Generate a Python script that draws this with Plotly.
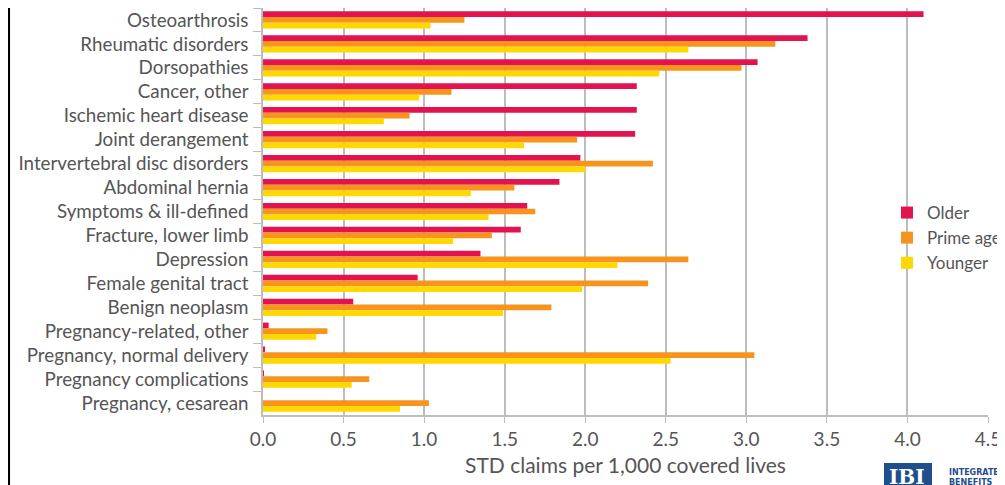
import plotly.graph_objects as go

categories = ["Osteoarthrosis", "Rheumatic disorders", "Dorsopathies", "Cancer, other",
              "Ischemic heart disease", "Joint derangement", "Intervertebral disc disorders",
              "Abdominal hernia", "Symptoms & ill-defined", "Fracture, lower limb", "Depression",
              "Female genital tract", "Benign neoplasm", "Pregnancy-related, other",
              "Pregnancy, normal delivery", "Pregnancy complications", "Pregnancy, cesarean"]
older = [4.10, 3.38, 3.07, 2.32, 2.32, 2.31, 1.97, 1.84, 1.64, 1.60, 1.35, 0.96, 0.56, 0.035, 0.01, 0.005, 0.0]
prime_age = [1.25, 3.18, 2.97, 1.17, 0.91, 1.95, 2.42, 1.56, 1.69, 1.42, 2.64, 2.39, 1.79, 0.40, 3.05, 0.66, 1.03]
younger = [1.04, 2.64, 2.46, 0.97, 0.75, 1.62, 2.00, 1.29, 1.40, 1.18, 2.20, 1.98, 1.49, 0.33, 2.53, 0.55, 0.85]
tick_vals = [0, 0.5, 1, 1.5, 2, 2.5, 3, 3.5, 4, 4.5]
tick_text = ["0.0", "0.5", "1.0", "1.5", "2.0", "2.5", "3.0", "3.5", "4.0", "4.5"]

FONT = "Lato, Open Sans, sans-serif"
TXT = "#555555"
GRID = "#BDBDBD"
fig = go.Figure()
for name, vals, col in [("Older", older, "#E2134F"), ("Prime age", prime_age, "#F7941D"),
                        ("Younger", younger, "#FFD800")]:
    fig.add_trace(go.Bar(y=categories, x=vals, name=name, orientation="h",
                         marker=dict(color=col, line=dict(width=0))))

# the page body has an 8px margin, so screen = figure + 8
OFF = 8
W, H = 1005, 485
ml, mr, mt, mb = 255, 25, 0, 78
pw, ph = W - ml - mr, H - mt - mb

def px(xs):
    return (xs - OFF - ml) / pw

def py(ys):
    return (H - mb - (ys - OFF)) / ph

fig.update_layout(
    width=W, height=H, barmode="group", bargap=0.28, bargroupgap=0,
    margin=dict(l=ml, r=mr, t=mt, b=mb, autoexpand=False),
    plot_bgcolor="white", paper_bgcolor="white",
    font=dict(family=FONT, color=TXT, size=19),
    legend=dict(x=px(887), y=py(195), xanchor="left", yanchor="top", traceorder="normal",
                bgcolor="rgba(0,0,0,0)", font=dict(size=17, color=TXT),
                itemwidth=30, tracegroupgap=0),
    xaxis=dict(range=[0, 4.5], tickvals=tick_vals, ticktext=tick_text,
               showgrid=True, gridcolor=GRID, gridwidth=1.5,
               showline=True, linecolor=GRID, linewidth=1.5,
               ticks="outside", ticklen=6, tickcolor=GRID,
               zeroline=False, tickfont=dict(size=19, color=TXT),
               title=dict(text="STD claims per 1,000 covered lives", standoff=10,
                          font=dict(size=21, color=TXT))),
    yaxis=dict(autorange="reversed", type="category", showline=True, linecolor=GRID,
               linewidth=1.5, ticks="outside", tickson="boundaries", ticklen=8,
               ticklabelstandoff=9,
               tickcolor=GRID, tickfont=dict(size=18.8, color=TXT), showgrid=False),
    shapes=[
        dict(type="line", xref="paper", yref="paper", x0=px(8.8), x1=px(8.8), y0=py(0), y1=py(H + 10),
             line=dict(color="black", width=2.5)),
        dict(type="rect", xref="paper", yref="paper", x0=px(884), x1=px(932), y0=py(463), y1=py(495),
             fillcolor="#1F4E8C", line=dict(width=0)),
    ],
    annotations=[
        dict(xref="paper", yref="paper", x=px(887), y=py(463), xanchor="left", yanchor="top",
             text="<b>IBI</b>", showarrow=False,
             font=dict(family="DejaVu Serif", size=20, color="white")),
        dict(xref="paper", yref="paper", x=px(947), y=py(466), xanchor="left", yanchor="top",
             text="<b>INTEGRATED<br>BENEFITS</b>", showarrow=False, align="left",
             font=dict(family="DejaVu Sans", size=8, color="#1F4E8C")),
    ],
)
fig.write_html("out.html")
